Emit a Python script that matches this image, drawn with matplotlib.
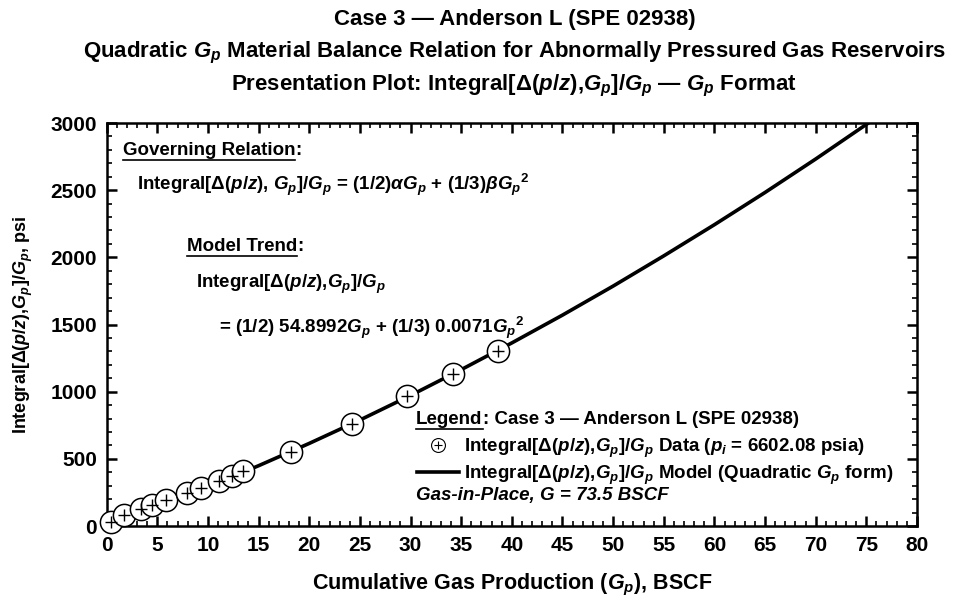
import matplotlib.pyplot as plt
from matplotlib.ticker import MultipleLocator
from matplotlib.lines import Line2D
from matplotlib.legend_handler import HandlerTuple

plt.rcParams['font.family'] = ['Liberation Sans', 'DejaVu Sans']
plt.rcParams['font.weight'] = 'bold'
plt.rcParams['mathtext.fontset'] = 'custom'
plt.rcParams['mathtext.rm'] = 'Liberation Sans:bold'
plt.rcParams['mathtext.it'] = 'Liberation Sans:italic:bold'
plt.rcParams['mathtext.bf'] = 'Liberation Sans:bold'

# Datos: Integral[d(p/z),Gp]/Gp vs Gp (BSCF, psi)
gp_data = [0.4, 1.7, 3.4, 4.5, 5.9, 7.9, 9.3, 11.1, 12.4, 13.5, 18.2, 24.2, 29.6, 34.2, 38.6]
int_data = [27, 82, 124, 156, 191, 248, 285, 337, 372, 407, 548, 761, 967, 1133, 1302]

# Modelo cuadratico en Gp
gp_model = [0, 5, 10, 15, 20, 25, 30, 35, 40, 45, 50, 55, 60, 65, 70, 75.2]
int_model = [0, 141, 291, 449, 615, 789, 972, 1164, 1363, 1570, 1786, 2011, 2243, 2483, 2732, 3000]

x_ticks = list(range(0, 81, 5))
y_ticks = list(range(0, 3001, 500))

fig = plt.figure(figsize=(9.56, 6), dpi=100)
ax = fig.add_axes([0.1116, 0.1233, 0.8476, 0.6717])

ax.plot(gp_model, int_model, color='black', lw=2.6, zorder=2)
ax.plot(gp_data, int_data, 'o', ms=16, mfc='white', mec='black', mew=1.1, zorder=3, clip_on=False)
ax.plot(gp_data, int_data, '+', ms=8, color='black', mew=1.0, zorder=4, clip_on=False)

ax.set_xlim(0, 80)
ax.set_ylim(0, 3000)
ax.set_xticks(x_ticks)
ax.set_yticks(y_ticks)
ax.xaxis.set_minor_locator(MultipleLocator(1))
ax.yaxis.set_minor_locator(MultipleLocator(100))
ax.tick_params(which='both', direction='in', top=True, right=True)
ax.tick_params(which='major', length=7.5, width=1.8, labelsize=15, pad=7)
ax.tick_params(which='minor', length=3.8, width=1.2)
for s in ax.spines.values():
    s.set_linewidth(1.8)

ax.set_xlabel(r'Cumulative Gas Production ($G_p$), BSCF', fontsize=15.5, fontweight='bold', labelpad=12)
ax.set_ylabel(r'Integral[Δ($p/z$),$G_p$]/$G_p$, psi', fontsize=13, fontweight='bold', labelpad=11)

cx = 0.538
fig.text(cx, 0.968, 'Case 3 — Anderson L (SPE 02938)', ha='center', va='center', fontsize=16)
fig.text(cx, 0.912, r'Quadratic $G_p$ Material Balance Relation for Abnormally Pressured Gas Reservoirs',
         ha='center', va='center', fontsize=16)
fig.text(cx, 0.856, r'Presentation Plot: Integral[Δ($p/z$),$G_p$]/$G_p$ — $G_p$ Format',
         ha='center', va='center', fontsize=16)

fs = 13.5
t_gov = ax.text(0.020, 0.921, 'Governing Relation', transform=ax.transAxes, fontsize=fs, va='baseline')
ax.text(0.037, 0.834, r'Integral[Δ($p/z$), $G_p$]/$G_p$ = (1/2)$\alpha G_p$ + (1/3)$\beta G_p{}^2$',
        transform=ax.transAxes, fontsize=fs, va='baseline')
t_mod = ax.text(0.099, 0.682, 'Model Trend', transform=ax.transAxes, fontsize=fs, va='baseline')
ax.text(0.110, 0.591, r'Integral[Δ($p/z$),$G_p$]/$G_p$', transform=ax.transAxes, fontsize=fs, va='baseline')
ax.text(0.138, 0.479, r'= (1/2) 54.8992$G_p$ + (1/3) 0.0071$G_p{}^2$',
        transform=ax.transAxes, fontsize=fs, va='baseline')

t_leg = ax.text(0.382, 0.253, 'Legend', transform=ax.transAxes, fontsize=fs, va='baseline')
ax.text(0.382, 0.065, 'Gas-in-Place, G = 73.5 BSCF', transform=ax.transAxes,
        fontsize=fs, va='baseline', style='italic')

h_circ = Line2D([], [], marker='o', ms=10, mfc='white', mec='black', mew=0.8, ls='none')
h_plus = Line2D([], [], marker='+', ms=6, color='black', mew=0.8, ls='none')
h_line = Line2D([], [], color='black', lw=2.6)
ax.legend([(h_circ, h_plus), h_line],
          [r'Integral[Δ($p/z$),$G_p$]/$G_p$ Data ($p_i$ = 6602.08 psia)',
           r'Integral[Δ($p/z$),$G_p$]/$G_p$ Model (Quadratic $G_p$ form)'],
          handler_map={tuple: HandlerTuple(ndivide=1)},
          loc='upper left', bbox_to_anchor=(0.372, 0.245), frameon=False,
          fontsize=fs, handlelength=2.2, handletextpad=0.3, labelspacing=0.2, borderpad=0)

# subrayados y dos puntos
fig.canvas.draw()
r = fig.canvas.get_renderer()
inv = ax.transAxes.inverted()
for t, rest in [(t_gov, ':'), (t_mod, ':'), (t_leg, ': Case 3 — Anderson L (SPE 02938)')]:
    bb = t.get_window_extent(r)
    (x0, y0), (x1, _) = inv.transform([(bb.x0, bb.y0 - 1), (bb.x1, bb.y0 - 1)])
    ax.plot([x0, x1], [y0, y0], color='black', lw=1.2, transform=ax.transAxes, clip_on=False)
    ax.text(x1, t.get_position()[1], rest, transform=ax.transAxes, fontsize=fs, va='baseline')

fig.savefig('out.png', dpi=100)
